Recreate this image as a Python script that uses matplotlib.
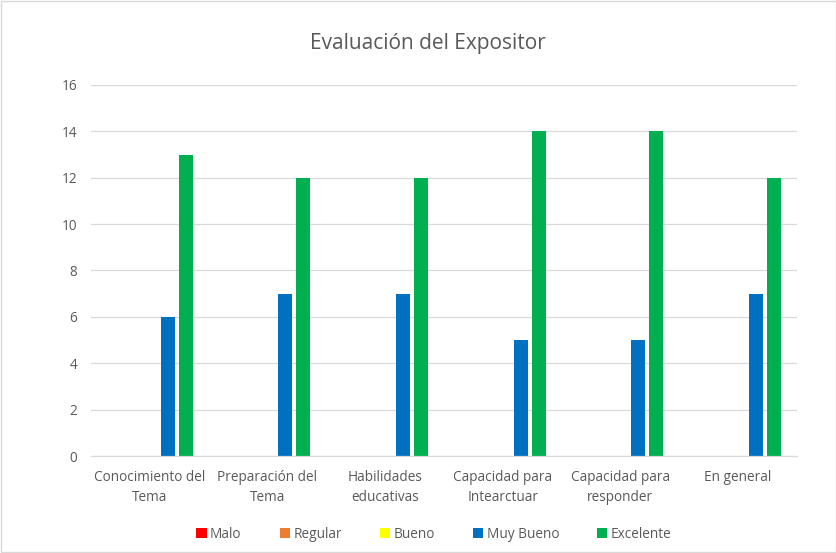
import matplotlib.pyplot as plt
import numpy as np

# data
categorias = ["Conocimiento del\nTema", "Preparación del\nTema", "Habilidades\neducativas",
              "Capacidad para\nIntearctuar", "Capacidad para\nresponder", "En general"]
series = ["Malo", "Regular", "Bueno", "Muy Bueno", "Excelente"]
malo = [0, 0, 0, 0, 0, 0]
regular = [0, 0, 0, 0, 0, 0]
bueno = [0, 0, 0, 0, 0, 0]
muy_bueno = [6, 7, 7, 5, 5, 7]
excelente = [13, 12, 12, 14, 14, 12]
colores = ["#FF0000", "#ED7D31", "#FFFF00", "#0070C0", "#00B050"]
yticks = [0, 2, 4, 6, 8, 10, 12, 14, 16]

plt.rcParams['font.family'] = ['Open Sans', 'DejaVu Sans']
texto = "#595959"

fig = plt.figure(figsize=(8.37, 5.53), dpi=100)
ax = fig.add_axes([0.1087, 0.1754, 0.8433, 0.6709])

x = np.arange(len(categorias))
paso = 0.153
ancho = 0.119
valores = [malo, regular, bueno, muy_bueno, excelente]
for i, (nombre, vals) in enumerate(zip(series, valores)):
    ax.bar(x + (i - 2) * paso, vals, width=ancho, color=colores[i], label=nombre, zorder=3)

ax.set_xlim(-0.5, len(categorias) - 0.5)
ax.set_ylim(0, 16)
ax.set_yticks(yticks)
ax.set_xticks(x)
ax.set_xticklabels(categorias, fontsize=9.8, color=texto, linespacing=1.45)
ax.tick_params(axis='y', labelsize=9.8, colors=texto, length=0, pad=10)
ax.tick_params(axis='x', length=0, pad=10)
ax.grid(axis='y', color="#D9D9D9", linewidth=0.9, zorder=0)
for s in ['top', 'right', 'left']:
    ax.spines[s].set_visible(False)
ax.spines['bottom'].set_color("#D9D9D9")
ax.spines['bottom'].set_linewidth(0.9)
ax.spines['bottom'].set_zorder(4)

fig.text(428 / 837, 1 - 44 / 553, "Evaluación del Expositor", ha='center', va='center',
         fontsize=15, color=texto)

ax.legend(loc='center', ncol=5, frameon=False, fontsize=9.8, labelcolor=texto,
          handlelength=0.75, handleheight=0.75, handletextpad=0.25, columnspacing=2.8)
leg = ax.get_legend()
leg.set_bbox_to_anchor((434 / 837, 1 - 534 / 553), transform=fig.transFigure)

fig.patches.append(plt.Rectangle((0.001, 0.001), 0.998, 0.998, transform=fig.transFigure,
                                 fill=False, edgecolor="#D9D9D9", linewidth=1))

fig.savefig("out.png", dpi=100)
